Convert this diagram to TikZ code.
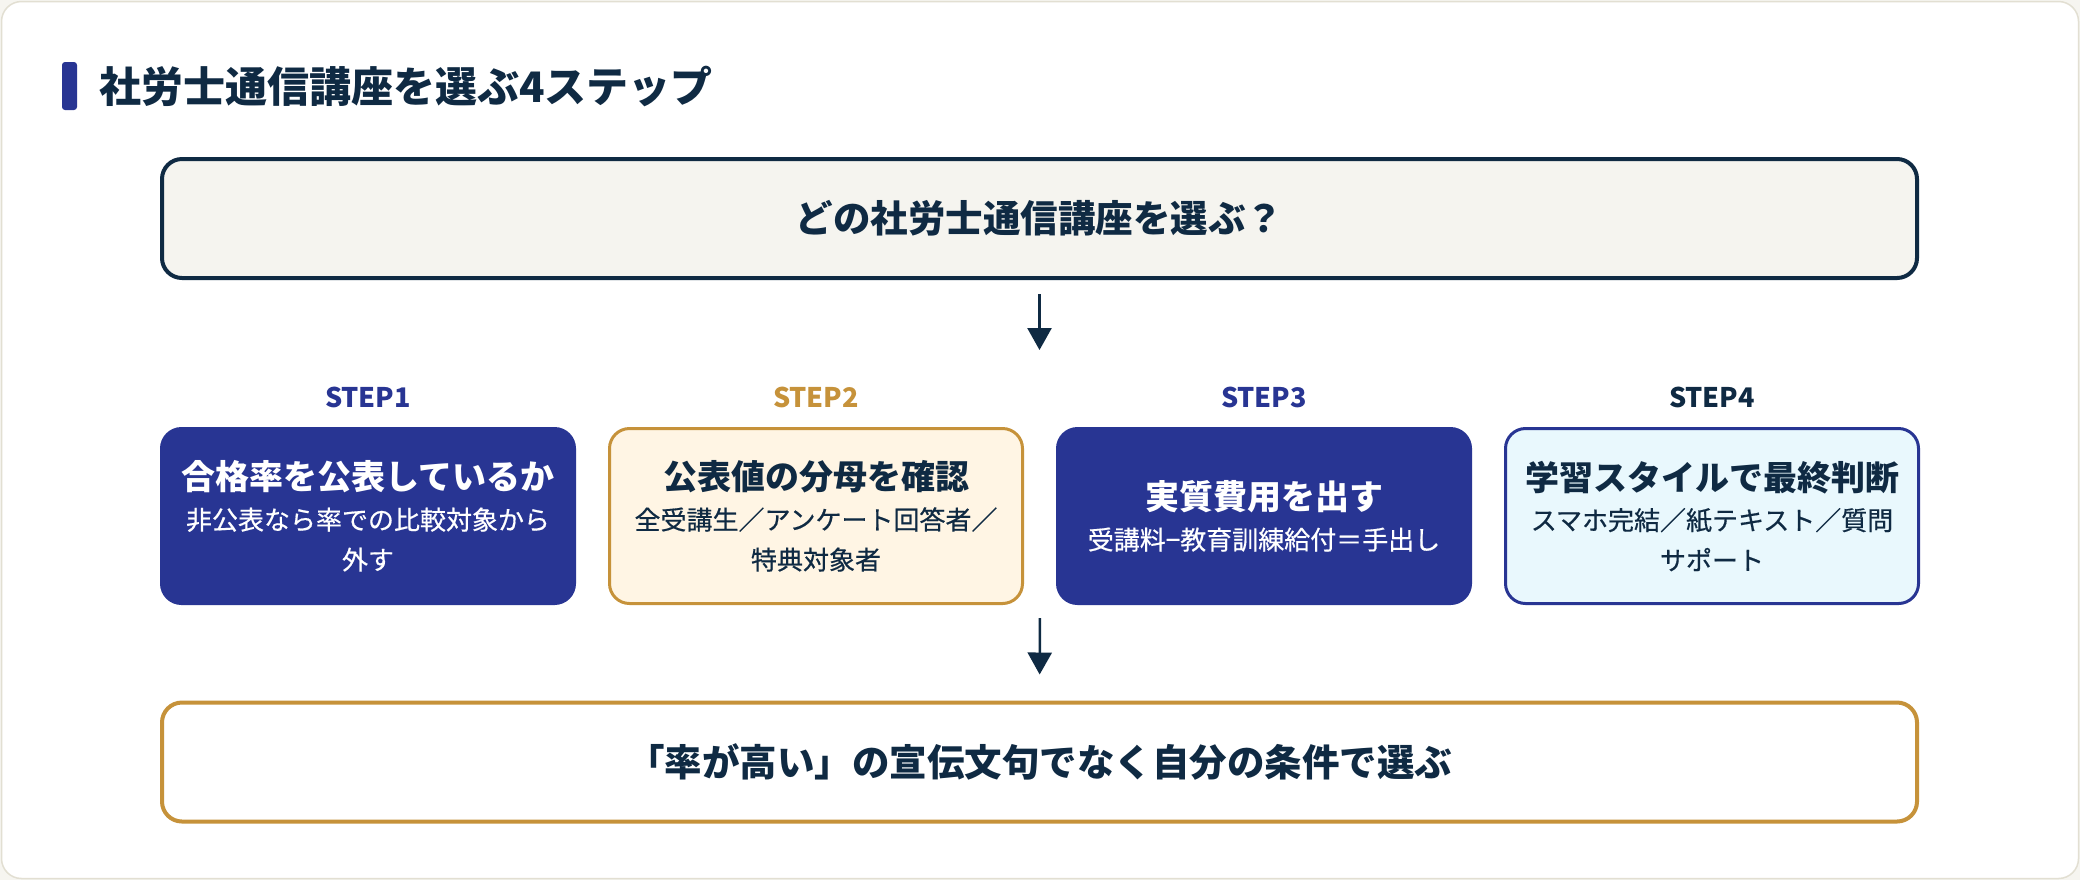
\documentclass[tikz,border=0pt]{standalone}
\usepackage{fontspec}
\setmainfont{Noto Sans CJK JP}
\usetikzlibrary{calc,arrows.meta}

\definecolor{skink}{HTML}{0F2A43}
\definecolor{skindigo}{HTML}{283593}
\definecolor{skgold}{HTML}{C6923A}
\definecolor{skcream}{HTML}{FFF5E4}
\definecolor{skice}{HTML}{E9F8FD}
\definecolor{skpaper}{HTML}{F5F4EF}
\definecolor{skpage}{HTML}{F6F5F0}
\definecolor{skcardline}{HTML}{E2DFD2}

\newcommand{\sktitle}[1]{{\normalfont\bfseries\fontsize{17pt}{21.5pt}\selectfont #1}}

\tikzset{
	bigbox/.style={rounded corners=10pt, line width=2pt, inner sep=0pt,
		minimum width=877.5pt, minimum height=59.5pt, text=skink,
		font=\fontsize{18.75pt}{22pt}\selectfont\bfseries},
	stepbox/.style={rounded corners=10pt, line width=1.5pt, inner sep=0pt,
		minimum width=206.5pt, minimum height=87.5pt, align=center,
		font=\fontsize{13pt}{20pt}\selectfont\addfontfeatures{FakeBold=0.5}},
	steplabel/.style={inner sep=0pt, font=\fontsize{13.5pt}{16pt}\selectfont\bfseries},
	skarrow/.style={draw=skink, line width=1.25pt, -{Triangle[length=11pt, width=12pt]}}
}

\begin{document}
\begin{tikzpicture}[x=0.5pt,y=-0.5pt]

% card
\fill[skpage] (0,0) rectangle (2080,880);
\draw[skcardline, line width=0.75pt, fill=white, rounded corners=10pt] (1.5,1.5) rectangle (2078.5,878.5);
\useasboundingbox (0,0) rectangle (2080,880);

% heading
\fill[skindigo, rounded corners=1.5pt] (62,62) rectangle (77,110);
\node[anchor=west, inner sep=0pt, text=skink, font=\fontsize{21pt}{25pt}\selectfont\bfseries]
	(title) at (99,86) {社労士通信講座を選ぶ4ステップ};

% question
\node[bigbox, draw=skink, fill=skpaper] (q) at (1039.5,218.5) {どの社労士通信講座を選ぶ？};

% steps
\node[stepbox, draw=skindigo, fill=skindigo, text=white] (s1) at (368,516)
	{\sktitle{合格率を公表しているか}\\非公表なら率での比較対象から\\外す};
\node[stepbox, draw=skgold, fill=skcream, text=skink] (s2) at (816,516)
	{\sktitle{公表値の分母を確認}\\全受講生／アンケート回答者／\\特典対象者};
\node[stepbox, draw=skindigo, fill=skindigo, text=white] (s3) at (1264,516)
	{\sktitle{実質費用を出す}\\受講料−教育訓練給付＝手出し};
\node[stepbox, draw=skindigo, fill=skice, text=skink] (s4) at (1712,516)
	{\sktitle{学習スタイルで最終判断}\\スマホ完結／紙テキスト／質問\\サポート};

\node[steplabel, text=skindigo] (l1) at ($(s1.north)+(0,-30)$) {STEP1};
\node[steplabel, text=skgold] (l2) at ($(s2.north)+(0,-30)$) {STEP2};
\node[steplabel, text=skindigo] (l3) at ($(s3.north)+(0,-30)$) {STEP3};
\node[steplabel, text=skink] (l4) at ($(s4.north)+(0,-30)$) {STEP4};

% result
\node[bigbox, draw=skgold, fill=white] (r) at (1039.5,762) {「率が高い」の宣伝文句でなく自分の条件で選ぶ};

% arrows
\coordinate (a1) at (1039.5,350);
\coordinate (rowbot) at ($(s2.south east)!0.5!(s3.south west)$);
\draw[skarrow, shorten <=7pt] (q.south) -- (a1);
\draw[skarrow, shorten <=6.5pt, shorten >=13pt] (rowbot) -- (r.north);

\end{tikzpicture}
\end{document}
